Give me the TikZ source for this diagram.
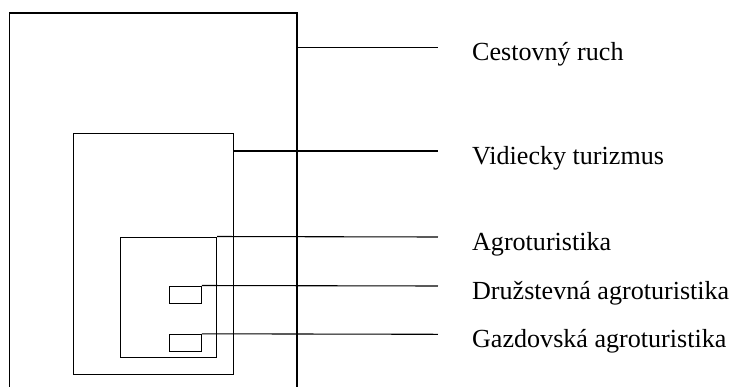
\documentclass[tikz,border=0pt]{standalone}
\usepackage{fontspec}
\setmainfont{Liberation Serif}
\usepackage{tikz}
\usetikzlibrary{positioning}

\newlength{\px}
\setlength{\px}{0.46pt}

\tikzset{
	box/.style={draw, line width=0.5pt, inner sep=0pt},
	leader/.style={line width=0.5pt},
	caption/.style={anchor=base west, inner sep=0pt, font=\fontsize{12}{14}\selectfont}
}

\begin{document}
\begin{tikzpicture}[x=0.46pt, y=-0.46pt]
		
		\clip (0,0) rectangle (733,387);
		
		% Cestovny ruch (outer box, cut at the bottom)
		\node [box,
		minimum width=287.5\px,
		minimum height=400\px
		] (cestovny) at (153.25,213) {};
		
		% Vidiecky turizmus
		\node [box,
		minimum width=159.6\px,
		minimum height=240.6\px
		] (vidiecky) at (153.5,254) {};
		
		% Agroturistika
		\node [box,
		minimum width=96\px,
		minimum height=120.3\px
		] (agro) at (168.7,297.2) {};
		
		% Druzstevna agroturistika
		\node [box,
		minimum width=32\px,
		minimum height=17.3\px
		] (druzstevna) at (185.3,294.7) {};
		
		% Gazdovska agroturistika
		\node [box,
		minimum width=32\px,
		minimum height=17.3\px
		] (gazdovska) at (185.3,343) {};
		
		% line ends
		\coordinate (cestovny end) at (438,47.7);
		\coordinate (vidiecky end) at (438,151);
		\coordinate (agro end) at (438,237);
		\coordinate (druzstevna end) at (438,286);
		\coordinate (gazdovska end) at (438,334.3);
		
		% labels
		\node [caption] (cestovny label) at (471.7,60.7) {Cestovný ruch};
		\node [caption] (vidiecky label) at (471.7,164) {Vidiecky turizmus};
		\node [caption] (agro label) at (471.7,250) {Agroturistika};
		\node [caption] (druzstevna label) at (471.7,299) {Družstevná agroturistika};
		\node [caption] (gazdovska label) at (471.7,347.3) {Gazdovská agroturistika};
		
		\draw[leader] (cestovny end -| cestovny.east) -- (cestovny end);
		
		\draw[leader] (vidiecky end -| vidiecky.east) -- (vidiecky end);
		
		\draw[leader] (agro.north east) -- (agro end);
		
		\draw[leader] (druzstevna.north east) -- (druzstevna end);
		
		\draw[leader] (gazdovska.north east) -- (gazdovska end);
		
\end{tikzpicture}
\end{document}
